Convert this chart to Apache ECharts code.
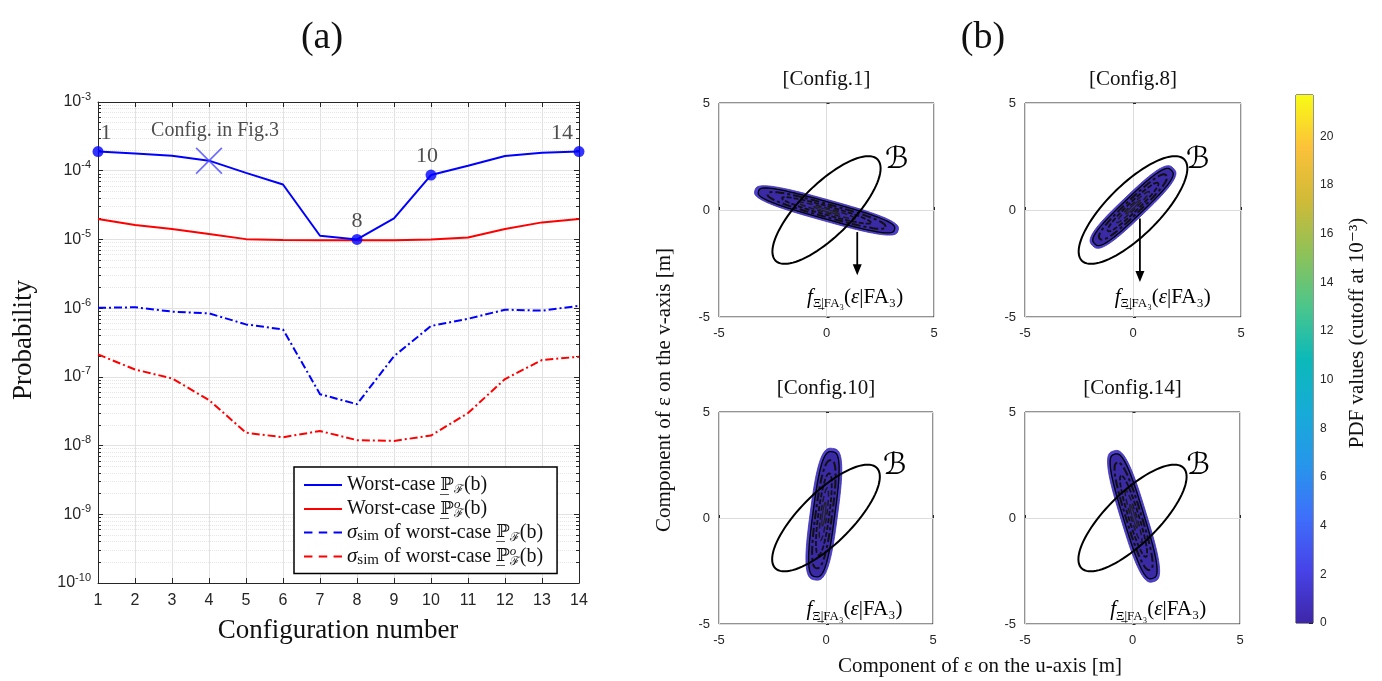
<!DOCTYPE html>
<html><head><meta charset="utf-8">
<script src="https://cdn.jsdelivr.net/npm/echarts@6/dist/echarts.min.js"></script>
<style>html,body{margin:0;padding:0;background:#fff}#c{width:1382px;height:681px}</style>
</head><body><div id="c"></div>
<script>
// ---------------- DATA ----------------
const configNumbers = [1,2,3,4,5,6,7,8,9,10,11,12,13,14];
const worstCaseP   = [1.9e-4, 1.78e-4, 1.65e-4, 1.4e-4, 9.3e-5, 6.3e-5, 1.13e-5, 1.0e-5, 2.03e-5, 8.65e-5, 1.18e-4, 1.64e-4, 1.83e-4, 1.9e-4];
const worstCasePo  = [1.98e-5, 1.62e-5, 1.42e-5, 1.2e-5, 1.01e-5, 9.8e-6, 9.7e-6, 9.7e-6, 9.7e-6, 1.0e-5, 1.07e-5, 1.42e-5, 1.77e-5, 1.98e-5];
const sigmaP       = [1.01e-6, 1.03e-6, 8.9e-7, 8.4e-7, 5.8e-7, 4.9e-7, 5.6e-8, 4.0e-8, 2.0e-7, 5.5e-7, 7.0e-7, 9.5e-7, 9.2e-7, 1.08e-6];
const sigmaPo      = [2.12e-7, 1.28e-7, 9.5e-8, 4.6e-8, 1.54e-8, 1.32e-8, 1.63e-8, 1.2e-8, 1.17e-8, 1.4e-8, 2.97e-8, 9.3e-8, 1.76e-7, 1.96e-7];
const highlightedConfigs = [1, 8, 10, 14];
const fig3Config = 4;
const fig3Label = 'Config. in Fig.3';

const subplotTitles = ['[Config.1]', '[Config.8]', '[Config.10]', '[Config.14]'];
const blobCenterU   = [0.0, 0.0, -0.1, 0.05];
const blobCenterV   = [-0.02, 0.14, 0.18, 0.08];
const blobAngleDeg  = [-15.7, 44, 82.5, 106.8];
const blobHalfLength = [3.46, 2.6, 3.13, 3.22];
const blobHalfWidth  = [0.5, 0.56, 0.64, 0.6];
const regionBCenter  = [0, 0];
const regionBSemiAxes = [3.35, 1.2];
const regionBAngleDeg = 45;
const regionBLabelU = [3.27, 3.0, 3.22, 3.06];
const regionBLabelV = [2.32, 2.32, 2.45, 2.45];
const arrowU      = [1.43, 0.32, null, null];
const arrowStartV = [-1.03, -0.4, null, null];
const arrowEndV   = [-3.05, -3.36, null, null];
const pdfLabelU = [1.33, 1.38, 1.33, 1.2];
const pdfLabelV = [-4.07, -4.07, -4.33, -4.33];
const colorbarMax = 21.7;
const colorbarTicks = [0,2,4,6,8,10,12,14,16,18,20];

// ---------------- STYLE ----------------
const SERIF = "'Liberation Serif','DejaVu Serif',serif";
const SANS = "'Liberation Sans','DejaVu Sans',sans-serif";
const AX = '#262626';
const GRIDC = '#e2e2e2';
const labelOffsets = [[8,0],[0,0],[-4,0],[-17,0]];
const gridsB = [
  {left: 719, top: 103, width: 215, height: 214},
  {left: 1025, top: 103, width: 216, height: 214},
  {left: 719, top: 412, width: 214, height: 212},
  {left: 1025, top: 412, width: 215, height: 212}
];
const parulaStops = [
  [0.0,'#3e26a8'],[0.1,'#4743e8'],[0.2,'#3e6ffb'],[0.3,'#2796eb'],[0.4,'#17abd7'],
  [0.5,'#0cb9b9'],[0.6,'#4cc68b'],[0.7,'#8ec258'],[0.8,'#d0ba38'],[0.9,'#fcc13a'],[1.0,'#f9fb15']
];

const chart = echarts.init(document.getElementById('c'));

function pairs(arr){ return configNumbers.map((c,i)=>[c, arr[i]]); }

function shapePoints(api, cu, cv, a, b, angDeg, p) {
  const th = angDeg*Math.PI/180, c = Math.cos(th), s = Math.sin(th);
  const pts = [];
  const n = 90;
  for (let i=0;i<n;i++){
    const t = 2*Math.PI*i/n;
    const ct = Math.cos(t), st = Math.sin(t);
    const x = a*Math.sign(ct)*Math.pow(Math.abs(ct), 2/p);
    const y = b*Math.sign(st)*Math.pow(Math.abs(st), 2/p);
    pts.push(api.coord([cu + x*c - y*s, cv + x*s + y*c]));
  }
  return pts;
}

const richSub = {
  f: {fontFamily: SERIF, fontStyle:'italic', fontSize: 21, lineHeight: 26, verticalAlign:'middle', color:'#000'},
  s: {fontFamily: SERIF, fontSize: 13, lineHeight: 14, verticalAlign:'bottom', color:'#000'},
  n: {fontFamily: SERIF, fontSize: 21, lineHeight: 26, verticalAlign:'middle', color:'#000'},
  i: {fontFamily: SERIF, fontStyle:'italic', fontSize: 21, lineHeight: 26, verticalAlign:'middle', color:'#000'}
};

function makeSubplotRender(k) {
  return function(params, api) {
    const ch = [];
    const cu = blobCenterU[k], cv = blobCenterV[k], a = blobHalfLength[k], b = blobHalfWidth[k], ang = blobAngleDeg[k];
    ch.push({type:'polygon', shape:{points: shapePoints(api, cu, cv, a, b, ang, 3)},
      style:{fill:'#4d40d2', stroke:'#3a2ea0', lineWidth:0.8}});
    ch.push({type:'polygon', shape:{points: shapePoints(api, cu, cv, a*0.95, b*0.8, ang, 3)},
      style:{fill:'#3a2aa6', stroke:'#000', lineWidth:1.3}});
    ch.push({type:'polygon', shape:{points: shapePoints(api, cu, cv, a*0.82, b*0.6, ang, 2.6)},
      style:{fill:'none', stroke:'#111', lineWidth:2, lineDash:[9,3,3,3]}});
    ch.push({type:'polygon', shape:{points: shapePoints(api, cu, cv, a*0.62, b*0.4, ang, 2.2)},
      style:{fill:'none', stroke:'#111', lineWidth:1.8, lineDash:[5,2]}});
    ch.push({type:'polygon', shape:{points: shapePoints(api, cu, cv, a*0.4, b*0.22, ang, 2)},
      style:{fill:'none', stroke:'#1a1a1a', lineWidth:1.5, lineDash:[6,3]}});
    ch.push({type:'polygon', shape:{points: shapePoints(api, cu, cv, a*0.18, b*0.1, ang, 2)},
      style:{fill:'none', stroke:'#222', lineWidth:1.2}});
    ch.push({type:'polygon', shape:{points: shapePoints(api, regionBCenter[0], regionBCenter[1], regionBSemiAxes[0], regionBSemiAxes[1], regionBAngleDeg, 2)},
      style:{fill:'none', stroke:'#000', lineWidth:2}});
    const bp = api.coord([regionBLabelU[k], regionBLabelV[k]]);
    ch.push({type:'text', x: bp[0], y: bp[1], style:{text:'ℬ', font:"30px 'DejaVu Serif','DejaVu Sans',serif", fill:'#000', textAlign:'center', textVerticalAlign:'middle', align:'center', verticalAlign:'middle'}});
    if (arrowU[k] != null) {
      const p0 = api.coord([arrowU[k], arrowStartV[k]]);
      const p1 = api.coord([arrowU[k], arrowEndV[k]]);
      ch.push({type:'line', shape:{x1:p0[0], y1:p0[1], x2:p1[0], y2:p1[1]-8}, style:{stroke:'#000', lineWidth:1.8}});
      ch.push({type:'polygon', shape:{points:[[p1[0],p1[1]],[p1[0]-4.5,p1[1]-11],[p1[0]+4.5,p1[1]-11]]}, style:{fill:'#000'}});
    }
    const lp = api.coord([pdfLabelU[k], pdfLabelV[k]]);
    ch.push({type:'text', x: lp[0], y: lp[1], style:{
      text:'{f|f}{s|Ξ̲|FA₃}{n|(}{i|ε}{n||FA₃)}', rich: richSub,
      textAlign:'center', textVerticalAlign:'middle', align:'center', verticalAlign:'middle'}});
    return {type:'group', children: ch};
  };
}

// ---------------- AXES ----------------
// grid 0: panel (a); grids 1-4: panel (b) subplots; grid 5: colorbar
// xAxis/yAxis 0,1: panel (a); 2-5: subplots; 6: colorbar
const xAxes = [], yAxes = [], grids = [];
grids.push({left: 98, top: 102, width: 481, height: 481, show:false});
xAxes.push({gridIndex:0, type:'value', min:1, max:14, interval:1,
  axisLine:{show:true, onZero:false, lineStyle:{color:AX}}, axisTick:{inside:true, length:5, lineStyle:{color:AX}},
  axisLabel:{fontFamily:SANS, fontSize:16, color:AX, margin:10},
  splitLine:{show:true, lineStyle:{color:GRIDC}}});
xAxes.push({gridIndex:0, type:'value', position:'top', min:1, max:14, interval:1,
  axisLine:{show:true, onZero:false, lineStyle:{color:AX}}, axisTick:{inside:true, length:5, lineStyle:{color:AX}},
  axisLabel:{show:false}, splitLine:{show:false}});
const logCommon = {gridIndex:0, type:'log', logBase:10, min:1e-10, max:1e-3, splitNumber:7,
  axisLine:{show:true, onZero:false, lineStyle:{color:AX}}, axisTick:{inside:true, length:5, lineStyle:{color:AX}},
  minorTick:{show:true, splitNumber:9, length:3, lineStyle:{color:AX}}};
yAxes.push(Object.assign({}, logCommon, {
  axisLabel:{margin:7, color:AX, formatter: v => '{b|10}{e|' + Math.round(Math.log10(v)) + '}',
    rich:{b:{fontFamily:SANS, fontSize:16, color:AX, lineHeight:22, verticalAlign:'middle'},
          e:{fontFamily:SANS, fontSize:11, color:AX, lineHeight:13, verticalAlign:'top'}}},
  splitLine:{show:true, lineStyle:{color:GRIDC}},
  minorSplitLine:{show:true, lineStyle:{color:'#e6e6e6', type:'dotted'}}}));
yAxes.push(Object.assign({}, logCommon, {position:'right', axisLabel:{show:false}, splitLine:{show:false}}));

gridsB.forEach((g, k) => {
  grids.push(Object.assign({show:true, borderColor:AX, borderWidth:1}, g));
  const gi = k + 1;
  xAxes.push({gridIndex:gi, type:'value', min:-5, max:5, interval:5,
    axisLine:{show:false}, axisTick:{inside:true, length:3, lineStyle:{color:AX}},
    axisLabel:{fontFamily:SANS, fontSize:13, color:AX, margin:10},
    splitLine:{show:true, lineStyle:{color:'#dcdcdc'}}});
  yAxes.push({gridIndex:gi, type:'value', min:-5, max:5, interval:5,
    axisLine:{show:false}, axisTick:{inside:true, length:3, lineStyle:{color:AX}},
    axisLabel:{fontFamily:SANS, fontSize:13, color:AX, margin:9},
    splitLine:{show:true, lineStyle:{color:'#dcdcdc'}}});
});
grids.push({left:1296, top:95, width:17, height:528, show:true, borderColor:AX, borderWidth:1});
xAxes.push({gridIndex:5, type:'category', data:['PDF'], show:false});
yAxes.push({gridIndex:5, type:'value', position:'right', min:0, max:colorbarMax, interval:2,
  axisLine:{show:false}, axisTick:{show:true, inside:true, length:4, lineStyle:{color:AX}},
  axisLabel:{fontFamily:SANS, fontSize:12, color:AX, margin:7, showMaxLabel:false,
    formatter: v => colorbarTicks.indexOf(v) >= 0 ? String(v) : ''},
  splitLine:{show:false}});

// ---------------- SERIES ----------------
const names = ['wcP','wcPo','sigP','sigPo'];
const series = [
  {name:names[0], type:'line', xAxisIndex:0, yAxisIndex:0, data:pairs(worstCaseP), symbol:'none', lineStyle:{color:'#0000ff', width:2}, itemStyle:{color:'#0000ff'}, z:5},
  {name:names[1], type:'line', xAxisIndex:0, yAxisIndex:0, data:pairs(worstCasePo), symbol:'none', lineStyle:{color:'#ff0000', width:2}, itemStyle:{color:'#ff0000'}, z:4},
  {name:names[2], type:'line', xAxisIndex:0, yAxisIndex:0, data:pairs(sigmaP), symbol:'none', lineStyle:{color:'#0000ff', width:2, type:[8,3,2,3]}, itemStyle:{color:'#0000ff'}, z:4},
  {name:names[3], type:'line', xAxisIndex:0, yAxisIndex:0, data:pairs(sigmaPo), symbol:'none', lineStyle:{color:'#ff0000', width:2, type:[8,3,2,3]}, itemStyle:{color:'#ff0000'}, z:4},
  {name:'highlight', type:'scatter', xAxisIndex:0, yAxisIndex:0, symbol:'circle', symbolSize:11, z:6,
    itemStyle:{color:'#0000ff'},
    data: highlightedConfigs.map((c, i) => ({value:[c, worstCaseP[c-1]],
      label:{show:true, position:'top', distance:2, offset:labelOffsets[i], formatter:String(c),
        fontFamily:SERIF, fontSize:22, color:'#222'}}))},
  {name:'fig3', type:'scatter', xAxisIndex:0, yAxisIndex:0, z:6,
    symbol:'path://M0,0.45 L0.45,0 L10,9.55 L9.55,10 Z M9.55,0 L10,0.45 L0.45,10 L0,9.55 Z', symbolSize:27,
    itemStyle:{color:'#4848ff'},
    data:[{value:[fig3Config, worstCaseP[fig3Config-1]],
      label:{show:true, position:'top', distance:6, offset:[6,0], formatter:fig3Label, fontFamily:SERIF, fontSize:20, color:'#222'}}]}
];
gridsB.forEach((g, k) => {
  series.push({type:'custom', xAxisIndex:k+2, yAxisIndex:k+2, data:[[blobCenterU[k], blobCenterV[k]]],
    renderItem: makeSubplotRender(k), silent:true, z:3});
});
series.push({type:'bar', xAxisIndex:6, yAxisIndex:6, data:[colorbarMax], barWidth:'100%', silent:true,
  itemStyle:{color: new echarts.graphic.LinearGradient(0,1,0,0, parulaStops.map(s=>({offset:s[0], color:s[1]})))}});

// ---------------- LEGEND ----------------
const legendRich = {
  t:{fontFamily:SERIF, fontSize:20, lineHeight:22, verticalAlign:'middle', color:'#111'},
  P:{fontFamily:"'DejaVu Serif',serif", fontSize:18, lineHeight:22, verticalAlign:'middle', color:'#111'},
  sb:{fontFamily:"'DejaVu Serif',serif", fontSize:12, lineHeight:12, verticalAlign:'bottom', color:'#111'},
  sp:{fontFamily:SERIF, fontStyle:'italic', fontSize:13, lineHeight:12, verticalAlign:'top', color:'#111', width:0},
  sg:{fontFamily:SERIF, fontStyle:'italic', fontSize:21, lineHeight:22, verticalAlign:'middle', color:'#111'},
  sm:{fontFamily:SERIF, fontSize:15, lineHeight:12, verticalAlign:'bottom', color:'#111'}
};
const legendText = {
  wcP: '{t|Worst-case }{P|ℙ̲}{sb|ℱ}{t|(b)}',
  wcPo: '{t|Worst-case }{P|ℙ̲}{sp|o}{sb|ℱ}{t|(b)}',
  sigP: '{sg|σ}{sm|sim}{t| of worst-case }{P|ℙ̲}{sb|ℱ}{t|(b)}',
  sigPo: '{sg|σ}{sm|sim}{t| of worst-case }{P|ℙ̲}{sp|o}{sb|ℱ}{t|(b)}'
};

const option = {
  animation:false,
  backgroundColor:'#fff',
  grid: grids, xAxis: xAxes, yAxis: yAxes, series: series,
  legend: {left:294, top:467, orient:'vertical', itemWidth:38, itemHeight:14, itemGap:2,
    padding:[8,14,6,10], borderColor:'#000', borderWidth:1.5, backgroundColor:'#fff',
    selectedMode:false, z:10,
    data:[
      {name:'wcP', icon:'path://M0,6 L40,6 L40,8 L0,8 Z', itemStyle:{color:'#0000ff'}},
      {name:'wcPo', icon:'path://M0,6 L40,6 L40,8 L0,8 Z', itemStyle:{color:'#ff0000'}},
      {name:'sigP', icon:'path://M0,6 L8,6 L8,8 L0,8 Z M14,6 L22,6 L22,8 L14,8 Z M28,6 L36,6 L36,8 L28,8 Z', itemStyle:{color:'#0000ff'}},
      {name:'sigPo', icon:'path://M0,6 L8,6 L8,8 L0,8 Z M14,6 L22,6 L22,8 L14,8 Z M28,6 L36,6 L36,8 L28,8 Z', itemStyle:{color:'#ff0000'}}
    ],
    formatter: n => legendText[n],
    textStyle:{rich: legendRich}
  },
  graphic: [
    {type:'text', x:322, y:38, style:{text:'(a)', font:'38px ' + SERIF, fill:'#111', textAlign:'center', textVerticalAlign:'middle'}},
    {type:'text', x:983, y:38, style:{text:'(b)', font:'38px ' + SERIF, fill:'#111', textAlign:'center', textVerticalAlign:'middle'}},
    {type:'text', x:24, y:340, rotation:Math.PI/2, style:{text:'Probability', font:'27px ' + SERIF, fill:'#111', textAlign:'center', textVerticalAlign:'middle'}},
    {type:'text', x:338, y:631, style:{text:'Configuration number', font:'27px ' + SERIF, fill:'#111', textAlign:'center', textVerticalAlign:'middle'}},
    {type:'text', x:664, y:390, rotation:Math.PI/2, style:{text:'Component of ε on the v-axis [m]', font:'21px ' + SERIF, fill:'#111', textAlign:'center', textVerticalAlign:'middle'}},
    {type:'text', x:980, y:666, style:{text:'Component of ε on the u-axis [m]', font:'21px ' + SERIF, fill:'#111', textAlign:'center', textVerticalAlign:'middle'}},
    {type:'text', x:1357, y:333, rotation:Math.PI/2, style:{text:'PDF values (cutoff at 10⁻³)', font:'21px ' + SERIF, fill:'#111', textAlign:'center', textVerticalAlign:'middle'}}
  ].concat(subplotTitles.map((t, k) => ({type:'text', x: gridsB[k].left + gridsB[k].width/2, y: gridsB[k].top - 24,
    style:{text:t, font:'21px ' + SERIF, fill:'#111', textAlign:'center', textVerticalAlign:'middle'}})))
};
chart.setOption(option);
</script></body></html>
